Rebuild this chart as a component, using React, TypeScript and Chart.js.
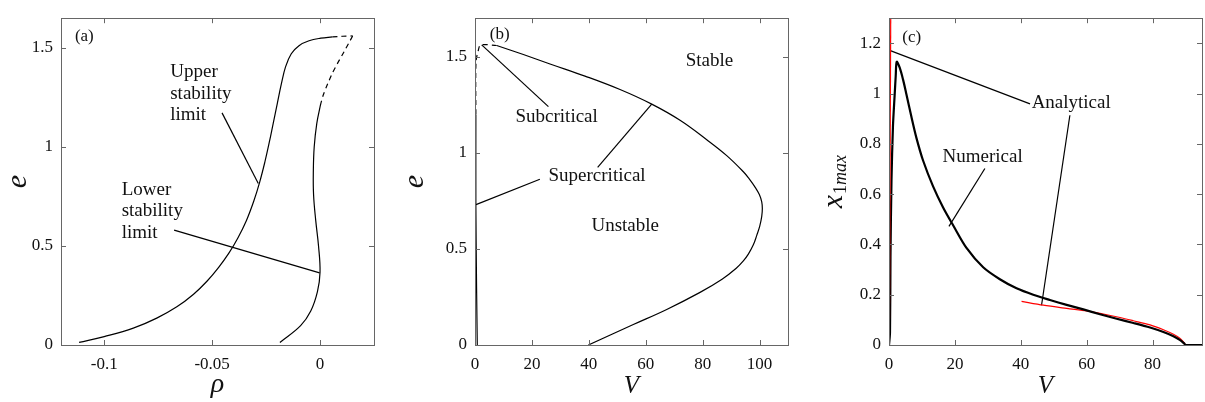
import React, { useEffect, useRef } from 'react';
import { Chart, registerables } from 'chart.js';

Chart.register(...registerables);

type Pt = [number, number];

// ---------- Panel (a): e vs rho ----------
const aLeftBranch: Pt[] = [
  [-0.11161, 0.0131], [-0.09999, 0.0425], [-0.0865, 0.085], [-0.07564, 0.1356], [-0.06634, 0.1928],
  [-0.05859, 0.2565], [-0.05239, 0.3219], [-0.04696, 0.3922], [-0.04231, 0.4624], [-0.03813, 0.5392],
  [-0.03409, 0.6291], [-0.03068, 0.7271], [-0.02789, 0.8252], [-0.02557, 0.9232], [-0.02355, 1.0212],
  [-0.02169, 1.1193], [-0.01983, 1.2173], [-0.01797, 1.3154], [-0.01595, 1.4052], [-0.01332, 1.4706],
  [-0.00975, 1.5114], [-0.0051, 1.5359], [0.00033, 1.549], [0.00575, 1.5556],
];
const aDashedTop: Pt[] = [[0.00575, 1.5556], [0.0105, 1.5588], [0.0151, 1.5605]];
const aDashedDown: Pt[] = [
  [0.0151, 1.5605], [0.0139, 1.536], [0.011, 1.478], [0.0081, 1.422], [0.0056, 1.37], [0.0034, 1.315], [0.0015, 1.262], [0.0003, 1.217],
];
const aRightBranch: Pt[] = [
  [0.0003, 1.217], [-0.0015, 1.119], [-0.0027, 1.0], [-0.0031, 0.88], [-0.003, 0.76], [-0.002, 0.629],
  [-0.0007, 0.5], [0, 0.368], [-0.0012, 0.27], [-0.0043, 0.172], [-0.009, 0.098], [-0.0186, 0.013],
];
const aLeaderUpper: Pt[] = [[-0.0454, 1.172], [-0.0286, 0.815]];
const aLeaderLower: Pt[] = [[-0.0676, 0.58], [-0.0002, 0.364]];
const aXTicks = [-0.1, -0.05, 0];
const aXTickLabels = ['-0.1', '-0.05', '0'];
const aYTicks = [0, 0.5, 1, 1.5];
const aYTickLabels = ['0', '0.5', '1', '1.5'];

// ---------- Panel (b): e vs V ----------
const bOuterBranch: Pt[] = [
  [39.84, 0], [55.64, 0.1064], [67.38, 0.185], [79.09, 0.2737], [86.82, 0.3421], [91.81, 0.3994],
  [94.31, 0.4374], [96.06, 0.4729], [97.82, 0.521], [99.02, 0.5702], [100.07, 0.6183], [100.77, 0.669],
  [100.98, 0.7096], [100.77, 0.745], [99.93, 0.783], [98.59, 0.8175], [96.31, 0.8652], [94.31, 0.9012],
  [88.47, 0.9853], [81.44, 1.068], [72.06, 1.169], [62.11, 1.253], [50.97, 1.329], [38.66, 1.399],
  [26.36, 1.462], [17.0, 1.511], [7.62, 1.558],
];
const bDashedBranch: Pt[] = [
  [7.62, 1.558], [2.0, 1.561], [1.16, 1.532], [0.35, 1.473], [0.3, 1.2],
];
const bInnerBranch: Pt[] = [[0.3, 1.2], [0.3, 0.73], [0.55, 0.3], [0.8, 0]];
const bLeaderSub: Pt[] = [[25.8, 1.24], [2.35, 1.561]];
const bLeaderSuper1: Pt[] = [[43.1, 0.924], [62.11, 1.253]];
const bLeaderSuper2: Pt[] = [[22.8, 0.862], [0.35, 0.73]];
const bXTicks = [0, 20, 40, 60, 80, 100];
const bXTickLabels = ['0', '20', '40', '60', '80', '100'];
const bYTicks = [0, 0.5, 1, 1.5];
const bYTickLabels = ['0', '0.5', '1', '1.5'];

// ---------- Panel (c): x1max vs V ----------
const cNumerical: Pt[] = [
  [0, 0], [0.3, 0.05], [0.45, 0.35], [0.75, 0.65], [1.2, 0.869], [1.73, 0.998], [2.04, 1.07],
  [2.34, 1.1266], [3.25, 1.1034], [4.27, 1.0557], [5.28, 0.9978], [6.8, 0.9077], [8.32, 0.824],
  [10.34, 0.7339], [13.38, 0.6309], [16.42, 0.5472], [19.46, 0.4764], [23.52, 0.3862],
  [28.58, 0.309], [33.65, 0.2614], [38.71, 0.2253], [43.78, 0.1996], [48.84, 0.179],
  [53.91, 0.1597], [58.98, 0.1416], [64.04, 0.1223], [69.11, 0.1043], [74.17, 0.0876],
  [79.24, 0.0695], [83.29, 0.0515], [86.33, 0.0348], [88.36, 0.0193], [89.57, 0.0064],
  [90.08, 0], [95, 0],
];
const cAnalyticalLow: Pt[] = [[0.1, 0], [0.55, 1.4]];
const cAnalyticalHigh: Pt[] = [
  [40.23, 0.1738], [46.82, 0.1584], [53.91, 0.1455], [59.99, 0.1352], [64.04, 0.1262],
  [70.12, 0.1094], [74.17, 0.0966], [79.24, 0.0798], [83.29, 0.0605], [86.33, 0.0425],
  [88.36, 0.0258], [89.57, 0.009], [89.98, 0],
];
const cLeaderAna1: Pt[] = [[42.8, 0.959], [0.4, 1.171]];
const cLeaderAna2: Pt[] = [[54.9, 0.914], [46.3, 0.158]];
const cLeaderNum: Pt[] = [[29.1, 0.702], [18.2, 0.472]];
const cXTicks = [0, 20, 40, 60, 80];
const cXTickLabels = ['0', '20', '40', '60', '80'];
const cYTicks = [0, 0.2, 0.4, 0.6, 0.8, 1, 1.2];
const cYTickLabels = ['0', '0.2', '0.4', '0.6', '0.8', '1', '1.2'];

const SERIF = "'Liberation Serif', 'Times New Roman', serif";

interface Note { lines: string[]; x: number; y: number; align: CanvasTextAlign; size: number }
interface Series { pts: Pt[]; color?: string; width?: number; dash?: number[]; tension?: number }
interface PanelCfg {
  left: number; width: number; yAxisWidth: number; padRight: number;
  xMin: number; xMax: number; yMin: number; yMax: number;
  xTicks: number[]; xTickLabels: string[]; yTicks: number[]; yTickLabels: string[];
  series: Series[]; notes: Note[];
  xTitle: string; xTitleSize: number; yTitle: string; yTitleX: number; titleY: number;
}

const panels: PanelCfg[] = [
  {
    left: 0, width: 390, yAxisWidth: 61, padRight: 16,
    xMin: -0.12, xMax: 0.025, yMin: 0, yMax: 1.65,
    xTicks: aXTicks, xTickLabels: aXTickLabels, yTicks: aYTicks, yTickLabels: aYTickLabels,
    series: [
      { pts: aLeftBranch, tension: 0.4 },
      { pts: aDashedTop, dash: [5, 4], tension: 0 },
      { pts: aDashedDown, dash: [5, 4], tension: 0.3 },
      { pts: aRightBranch, tension: 0.4 },
      { pts: aLeaderUpper, tension: 0 },
      { pts: aLeaderLower, tension: 0 },
    ],
    notes: [
      { lines: ['(a)'], x: -0.1092, y: 1.556, align: 'center', size: 17 },
      { lines: ['Upper', 'stability', 'limit'], x: -0.0694, y: 1.377, align: 'left', size: 19 },
      { lines: ['Lower', 'stability', 'limit'], x: -0.0919, y: 0.784, align: 'left', size: 19 },
    ],
    xTitle: 'ρ', xTitleSize: 28, yTitle: 'e', yTitleX: 18, titleY: 385,
  },
  {
    left: 400, width: 400, yAxisWidth: 75, padRight: 12,
    xMin: 0, xMax: 110, yMin: 0, yMax: 1.7,
    xTicks: bXTicks, xTickLabels: bXTickLabels, yTicks: bYTicks, yTickLabels: bYTickLabels,
    series: [
      { pts: bOuterBranch, tension: 0.4 },
      { pts: bDashedBranch, dash: [5, 4], tension: 0.3 },
      { pts: bInnerBranch, tension: 0.2 },
      { pts: bLeaderSub, tension: 0 },
      { pts: bLeaderSuper1, tension: 0 },
      { pts: bLeaderSuper2, tension: 0 },
    ],
    notes: [
      { lines: ['(b)'], x: 8.7, y: 1.613, align: 'center', size: 17 },
      { lines: ['Stable'], x: 82.4, y: 1.478, align: 'center', size: 19 },
      { lines: ['Subcritical'], x: 28.7, y: 1.186, align: 'center', size: 19 },
      { lines: ['Supercritical'], x: 42.9, y: 0.878, align: 'center', size: 19 },
      { lines: ['Unstable'], x: 52.8, y: 0.62, align: 'center', size: 19 },
    ],
    xTitle: 'V', xTitleSize: 25, yTitle: 'e', yTitleX: 15, titleY: 386,
  },
  {
    left: 800, width: 405, yAxisWidth: 89, padRight: 3,
    xMin: 0, xMax: 95, yMin: 0, yMax: 1.3,
    xTicks: cXTicks, xTickLabels: cXTickLabels, yTicks: cYTicks, yTickLabels: cYTickLabels,
    series: [
      { pts: cAnalyticalLow, color: '#ff0000', width: 1.2, tension: 0 },
      { pts: cNumerical, width: 2.2, tension: 0.3 },
      { pts: cAnalyticalHigh, color: '#ff0000', width: 1.2, tension: 0.3 },
      { pts: cLeaderAna1, tension: 0 },
      { pts: cLeaderAna2, tension: 0 },
      { pts: cLeaderNum, tension: 0 },
    ],
    notes: [
      { lines: ['(c)'], x: 6.9, y: 1.223, align: 'center', size: 17 },
      { lines: ['Analytical'], x: 55.3, y: 0.963, align: 'center', size: 19 },
      { lines: ['Numerical'], x: 28.4, y: 0.747, align: 'center', size: 19 },
    ],
    xTitle: 'V', xTitleSize: 25, yTitle: 'x1max', yTitleX: 35, titleY: 386,
  },
];

function makeFramePlugin(cfg: PanelCfg) {
  return {
    id: 'frame' + cfg.left,
    afterDatasetsDraw(chart: any) {
      const ctx: CanvasRenderingContext2D = chart.ctx;
      const { left, right, top, bottom } = chart.chartArea;
      const xs = chart.scales.x;
      const ys = chart.scales.y;
      ctx.save();
      ctx.strokeStyle = '#666666';
      ctx.lineWidth = 1;
      ctx.strokeRect(Math.round(left) + 0.5, Math.round(top) + 0.5, Math.round(right - left), Math.round(bottom - top));
      const tl = 5;
      ctx.beginPath();
      cfg.xTicks.forEach((v) => {
        const px = Math.round(xs.getPixelForValue(v)) + 0.5;
        ctx.moveTo(px, bottom); ctx.lineTo(px, bottom - tl);
        ctx.moveTo(px, top); ctx.lineTo(px, top + tl);
      });
      cfg.yTicks.forEach((v) => {
        const py = Math.round(ys.getPixelForValue(v)) + 0.5;
        ctx.moveTo(left, py); ctx.lineTo(left + tl, py);
        ctx.moveTo(right, py); ctx.lineTo(right - tl, py);
      });
      ctx.stroke();
      ctx.fillStyle = '#111111';
      cfg.notes.forEach((n) => {
        ctx.font = `${n.size}px ${SERIF}`;
        ctx.textAlign = n.align;
        ctx.textBaseline = 'middle';
        const x0 = xs.getPixelForValue(n.x);
        const y0 = ys.getPixelForValue(n.y);
        n.lines.forEach((ln, i) => ctx.fillText(ln, x0, y0 + i * 21.5));
      });
      const cx = (left + right) / 2;
      ctx.font = `italic ${cfg.xTitleSize}px ${SERIF}`;
      ctx.textAlign = 'center';
      ctx.textBaseline = 'middle';
      ctx.fillText(cfg.xTitle, cx, cfg.titleY);
      const cy = (top + bottom) / 2;
      ctx.translate(cfg.yTitleX, cy);
      ctx.rotate(-Math.PI / 2);
      if (cfg.yTitle === 'x1max') {
        const big = `italic 30px ${SERIF}`;
        const subN = `18px ${SERIF}`;
        const subI = `italic 18px ${SERIF}`;
        ctx.font = big; const wx = ctx.measureText('x').width;
        ctx.font = subN; const w1 = ctx.measureText('1').width;
        ctx.font = subI; const wm = ctx.measureText('max').width;
        const total = wx + w1 + wm + 1;
        let p = -total / 2;
        ctx.textAlign = 'left';
        ctx.textBaseline = 'alphabetic';
        ctx.font = big; ctx.fillText('x', p, 7); p += wx + 1;
        ctx.font = subN; ctx.fillText('1', p, 11); p += w1;
        ctx.font = subI; ctx.fillText('max', p, 11);
      } else {
        ctx.font = `italic 30px ${SERIF}`;
        ctx.textAlign = 'center';
        ctx.textBaseline = 'middle';
        ctx.fillText(cfg.yTitle, 0, 0);
      }
      ctx.restore();
    },
  };
}

function Panel({ cfg }: { cfg: PanelCfg }) {
  const ref = useRef<HTMLCanvasElement>(null);
  useEffect(() => {
    if (!ref.current) return;
    const tickFont = { family: SERIF, size: 17 };
    const chart = new Chart(ref.current, {
      type: 'scatter',
      data: {
        datasets: cfg.series.map((s) => ({
          data: s.pts.map(([x, y]) => ({ x, y })),
          showLine: true,
          pointRadius: 0,
          borderColor: s.color || '#000000',
          borderWidth: s.width || 1.2,
          borderDash: s.dash || [],
          tension: s.tension ?? 0,
          fill: false,
        })),
      },
      options: {
        animation: false,
        responsive: false,
        maintainAspectRatio: false,
        events: [],
        layout: { padding: { top: 9, right: cfg.padRight, left: 0, bottom: 0 } },
        plugins: { legend: { display: false }, tooltip: { enabled: false } },
        scales: {
          x: {
            type: 'linear', min: cfg.xMin, max: cfg.xMax,
            grid: { display: false, drawTicks: false },
            border: { display: false },
            ticks: {
              font: tickFont, color: '#111111', padding: 9, maxRotation: 0, autoSkip: false,
              callback: (v: any) => {
                const i = cfg.xTicks.findIndex((t) => Math.abs(t - Number(v)) < 1e-9);
                return i >= 0 ? cfg.xTickLabels[i] : '';
              },
            },
            afterBuildTicks: (s: any) => { s.ticks = cfg.xTicks.map((v) => ({ value: v })); },
            afterFit: (s: any) => { s.height = 57; },
          },
          y: {
            type: 'linear', min: cfg.yMin, max: cfg.yMax,
            grid: { display: false, drawTicks: false },
            border: { display: false },
            ticks: {
              font: tickFont, color: '#111111', padding: 8, autoSkip: false,
              callback: (v: any) => {
                const i = cfg.yTicks.findIndex((t) => Math.abs(t - Number(v)) < 1e-9);
                return i >= 0 ? cfg.yTickLabels[i] : '';
              },
            },
            afterBuildTicks: (s: any) => { s.ticks = cfg.yTicks.map((v) => ({ value: v })); },
            afterFit: (s: any) => { s.width = cfg.yAxisWidth; },
          },
        },
      } as any,
      plugins: [makeFramePlugin(cfg)],
    });
    return () => chart.destroy();
  }, [cfg]);
  return (
    <div style={{ position: 'absolute', left: cfg.left, top: 0, width: cfg.width, height: 402 }}>
      <canvas ref={ref} width={cfg.width} height={402} style={{ width: cfg.width, height: 402, display: 'block' }} />
    </div>
  );
}

export default function App() {
  return (
    <div style={{ position: 'fixed', left: 0, top: 0, width: 1205, height: 402, background: '#ffffff', overflow: 'hidden' }}>
      {panels.map((p) => <Panel key={p.left} cfg={p} />)}
    </div>
  );
}
